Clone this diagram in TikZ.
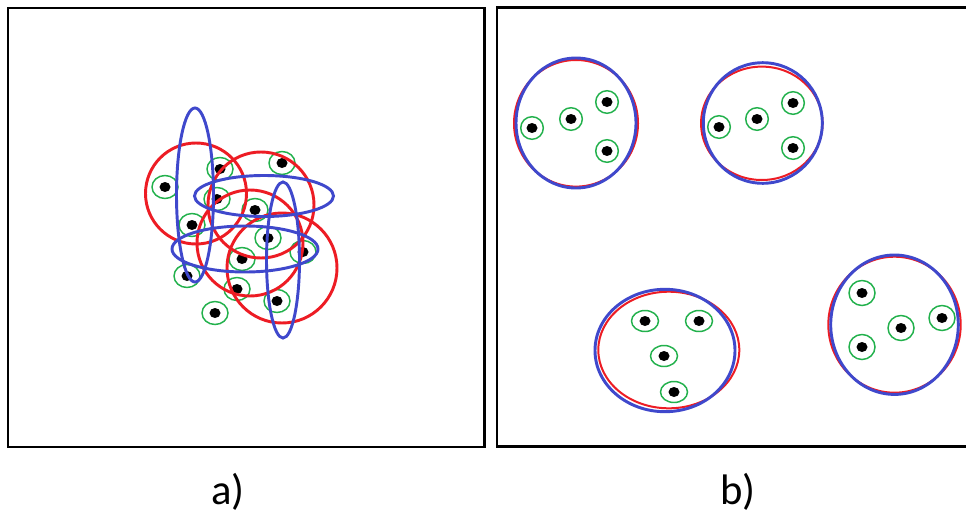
\documentclass[tikz,border=0pt]{standalone}
\usepackage{fontspec}
\setmainfont{Carlito}
\definecolor{pred}{RGB}{237,28,36}
\definecolor{pblue}{RGB}{63,72,204}
\definecolor{pgreen}{RGB}{34,177,76}
\begin{document}
\begin{tikzpicture}[x=0.75pt,y=-0.75pt,
  frame/.style={draw=black,line width=2.2pt},
  ring/.style={draw=pgreen,line width=1.1pt},
  blob/.style={fill=black},
  redc/.style={draw=pred,line width=2.2pt},
  bluec/.style={draw=pblue,line width=2.2pt},
  redthin/.style={draw=pred,line width=1.5pt},
  lab/.style={font=\fontsize{32}{38}\selectfont,anchor=base,inner sep=0pt}]
\useasboundingbox (0,0) rectangle (966,514);
\fill[white] (0,0) rectangle (966,514);
% frames
\draw[frame] (8,8) rectangle (484.5,447);
\draw[frame] (967,7.7) -- (497,7.7) -- (497,446.5) -- (967,446.5);
% ---------- panel a ----------
\foreach \x/\y in {165/187,220/169,282/163,217/199,255/210,192/225,268/238,303/252,242/259,187/276,237/289,277/301,215/313}{
  \draw[ring] (\x,\y) ellipse [x radius=13,y radius=11.5];
  \fill[blob] (\x,\y) ellipse [x radius=5.5,y radius=5];
}
\draw[redc] (196,193.5) circle [radius=50.5];
\draw[redc] (261,205) circle [radius=53];
\draw[redc] (250,243) circle [radius=53];
\draw[redc] (282,268) circle [radius=55];
\draw[bluec] (195,195) ellipse [x radius=18.5,y radius=87];
\draw[bluec] (264,196) ellipse [x radius=69.5,y radius=20.5];
\draw[bluec] (245,249) ellipse [x radius=73,y radius=23];
\draw[bluec] (283,260) ellipse [x radius=16.5,y radius=78];
% ---------- panel b ----------
\foreach \x/\y in {532/128,571/119,607/102,607/151,719/127,757/119,793/103,793/148}{
  \draw[ring] (\x,\y) circle [radius=11.3];
  \fill[blob] (\x,\y) ellipse [x radius=5.5,y radius=5];
}
\foreach \x/\y in {645/321,699/321,664/356,674/392}{
  \draw[ring] (\x,\y) ellipse [x radius=13.5,y radius=10.5];
  \fill[blob] (\x,\y) ellipse [x radius=5.5,y radius=5];
}
\foreach \x/\y in {862/293,942/318,901/328,862/347}{
  \draw[ring] (\x,\y) ellipse [x radius=13,y radius=12.5];
  \fill[blob] (\x,\y) ellipse [x radius=5.5,y radius=5];
}
\draw[redthin] (576,123.3) ellipse [x radius=62,y radius=63.3];
\draw[bluec] (576,123) ellipse [x radius=60,y radius=65];
\draw[redthin] (761.8,123.3) ellipse [x radius=60.8,y radius=56.7];
\draw[bluec] (762.8,123) ellipse [x radius=59.5,y radius=60.3];
\draw[redthin] (668.8,350) ellipse [x radius=70.5,y radius=58.3];
\draw[bluec] (665,350.5) ellipse [x radius=70,y radius=61.2];
\draw[redthin] (894.5,324.7) ellipse [x radius=66.2,y radius=68];
\draw[bluec] (894.5,324.7) ellipse [x radius=63.8,y radius=69.7];
% labels
\node[lab] (la) at (228,504) {a)};
\node[lab] (lb) at (738,504) {b)};
\end{tikzpicture}
\end{document}
